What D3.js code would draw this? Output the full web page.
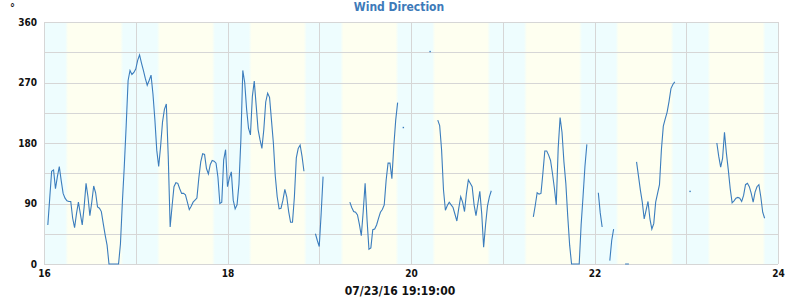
<!DOCTYPE html>
<html>
<head>
<meta charset="utf-8">
<script src="https://cdn.jsdelivr.net/npm/d3@7"></script>
<style>
    body { margin: 0; background: #fff; }
    text { font-family: "Liberation Sans Narrow", "DejaVu Sans Condensed", sans-serif; font-weight: bold; }
</style>
</head>
<body>
<div id="container"></div>
<script>
// wind direction, one reading every 30 min from 07/16 00:00 (null = no reading)
const startDate = new Date(2016, 6, 16)
const stepMinutes = 30
const direction = [
    null, null, 58, 98, 138, 140, 112, 130, 145, 124, 105, 98,
    94, 93, 93, 68, 54, 75, 92, 75, 58, 85, 120, 100,
    72, 92, 116, 106, 85, 83, 78, 60, 43, 28, 0, 0,
    0, 0, 0, 0, 30, 92, 145, 206, 273, 288, 282, 285,
    290, 303, 311, 299, 288, 276, 266, 273, 281, 253, 215, 169,
    145, 175, 211, 230, 238, 160, 55, 86, 115, 121, 120, 112,
    105, 105, 103, 92, 81, 86, 92, 95, 98, 128, 152, 164,
    163, 142, 134, 148, 154, 153, 150, 129, 90, 92, 155, 170,
    115, 128, 137, 95, 82, 88, 119, 185, 288, 270, 230, 202,
    192, 249, 272, 236, 200, 185, 172, 200, 241, 254, 248, 214,
    180, 131, 100, 82, 83, 95, 111, 100, 78, 62, 62, 100,
    158, 172, 177, 160, 138, null, null, null, null, null, 45, 35,
    26, 75, 130, null, null, null, null, null, null, null, null, null,
    null, null, null, null, 92, 84, 78, 77, 73, 59, 42, 78,
    120, 66, 22, 24, 51, 52, 58, 68, 77, 81, 88, 125,
    150, 150, 127, 175, 214, 240, null, null, 203, null, null, null,
    null, null, null, null, null, null, null, null, null, null, 316, null,
    null, null, 214, 206, 170, 110, 80, 87, 92, 88, 84, 74,
    64, 83, 100, 92, 78, 105, 125, 120, 115, 88, 72, 90,
    108, 75, 25, 58, 86, 100, 109, null, null, null, null, null,
    null, null, null, null, null, null, null, null, null, null, null, null,
    null, null, null, null, 70, 87, 106, 104, 105, 135, 168, 168,
    162, 154, 135, 113, 88, 172, 218, 196, 152, 120, 71, 28,
    0, 0, 0, 0, 0, 58, 100, 145, 178, null, null, null,
    null, null, 106, 76, 55, null, null, null, 5, 35, 52, null,
    null, null, null, null, 0, 0, 0, null, null, null, 152, 131,
    110, 92, 67, 80, 93, 67, 52, 60, 92, 105, 118, 170,
    205, 216, 226, 242, 261, 267, 271, null, null, null, null, null,
    null, null, 108, null, null, null, null, null, null, null, null, null,
    null, null, null, null, 180, 160, 144, 157, 196, 165, 140, 112,
    91, 94, 98, 99, 98, 93, 102, 118, 120, 115, 105, 92,
    107, 115, 118, 100, 77, 68, null, null, null, null, null, null
]

const days = [16, 17, 18, 19, 20, 21, 22, 23]
const sunriseHour = 5.55
const sunsetHour = 20.72
const yTicks = [0, 90, 180, 270, 360]
const xTickDays = [16, 18, 20, 22, 24]
const chartTitle = "Wind Direction"
const unitLabel = "°"
const stampLabel = "07/23/16 19:19:00"

let width = 800
let height = 300
let margin = {top: 22, right: 22, bottom: 36, left: 44}
let lineColor = "#3b7dbd"
let gridColor = "#d6d6d6"

let data = direction.map((v, i) => ({
    date: d3.timeMinute.offset(startDate, i * stepMinutes),
    value: v
}))

let svg = d3.select("#container")
    .append("svg")
    .attr("width", width)
    .attr("height", height)

let x = d3.scaleTime()
    .domain([new Date(2016, 6, 16), new Date(2016, 6, 24)])
    .range([margin.left, width - margin.right])

let y = d3.scaleLinear()
    .domain([0, 360])
    .range([height - margin.bottom, margin.top])

// night background, day bands on top with soft edges
let defs = svg.append("defs")
let grad = defs.append("linearGradient").attr("id", "dayband")
grad.selectAll("stop")
    .data([[0, "#eefdfe"], [0.05, "#fefff0"], [0.95, "#fefff0"], [1, "#eefdfe"]])
    .join("stop")
        .attr("offset", d => d[0])
        .attr("stop-color", d => d[1])

svg.append("rect")
    .attr("x", x.range()[0])
    .attr("y", y(360))
    .attr("width", x.range()[1] - x.range()[0])
    .attr("height", y(0) - y(360))
    .attr("fill", "#eefdfe")

svg.append("g")
    .selectAll("rect")
    .data(days)
    .join("rect")
        .attr("x", d => x(new Date(2016, 6, d, 0, sunriseHour * 60)))
        .attr("y", y(360))
        .attr("width", d => x(new Date(2016, 6, d, 0, sunsetHour * 60)) - x(new Date(2016, 6, d, 0, sunriseHour * 60)))
        .attr("height", y(0) - y(360))
        .attr("fill", "url(#dayband)")

// grid
svg.append("g")
    .attr("stroke", gridColor)
    .selectAll("line")
    .data(d3.range(0, 361, 45))
    .join("line")
        .attr("x1", x.range()[0])
        .attr("x2", x.range()[1])
        .attr("y1", d => Math.round(y(d)) + 0.5)
        .attr("y2", d => Math.round(y(d)) + 0.5)

svg.append("g")
    .attr("stroke", gridColor)
    .selectAll("line")
    .data(d3.timeDay.range(x.domain()[0], d3.timeDay.offset(x.domain()[1], 1)))
    .join("line")
        .attr("x1", d => Math.round(x(d)) + 0.5)
        .attr("x2", d => Math.round(x(d)) + 0.5)
        .attr("y1", y(360))
        .attr("y2", y(0))

// line
let line = d3.line()
    .defined(d => d.value != null)
    .x(d => x(d.date))
    .y(d => y(d.value))

svg.append("path")
    .datum(data)
    .attr("fill", "none")
    .attr("stroke", lineColor)
    .attr("stroke-width", 1.1)
    .attr("d", line)

// lone readings with no neighbour
let lone = data.filter((d, i) => d.value != null
    && (i == 0 || data[i - 1].value == null)
    && (i == data.length - 1 || data[i + 1].value == null))

svg.append("g")
    .attr("fill", lineColor)
    .selectAll("rect")
    .data(lone)
    .join("rect")
        .attr("x", d => x(d.date) - 0.7)
        .attr("y", d => y(d.value) - 0.7)
        .attr("width", 1.4)
        .attr("height", 1.4)

// axes
svg.append("g")
    .attr("transform", `translate(${margin.left - 7},0)`)
    .call(d3.axisLeft(y).tickValues(yTicks).tickSize(0).tickPadding(0))
    .call(g => g.select(".domain").remove())
    .call(g => g.selectAll("text")
        .attr("fill", "#111")
        .style("font-size", "10px"))

svg.append("g")
    .attr("transform", `translate(0,${height - margin.bottom + 6})`)
    .call(d3.axisBottom(x)
        .tickValues(xTickDays.map(d => new Date(2016, 6, d)))
        .tickFormat(d3.timeFormat("%-d"))
        .tickSize(0).tickPadding(0))
    .call(g => g.select(".domain").remove())
    .call(g => g.selectAll("text")
        .attr("fill", "#111")
        .style("font-size", "10px"))

svg.append("text")
    .attr("x", 399)
    .attr("y", 11)
    .attr("text-anchor", "middle")
    .attr("fill", "#3d7ab9")
    .style("font-size", "12px")
    .text(chartTitle)

svg.append("text")
    .attr("x", 10)
    .attr("y", 11)
    .attr("fill", "#111")
    .style("font-size", "11px")
    .text(unitLabel)

svg.append("text")
    .attr("x", 400)
    .attr("y", 295)
    .attr("text-anchor", "middle")
    .attr("fill", "#111")
    .style("font-size", "12px")
    .text(stampLabel)
</script>
</body>
</html>
